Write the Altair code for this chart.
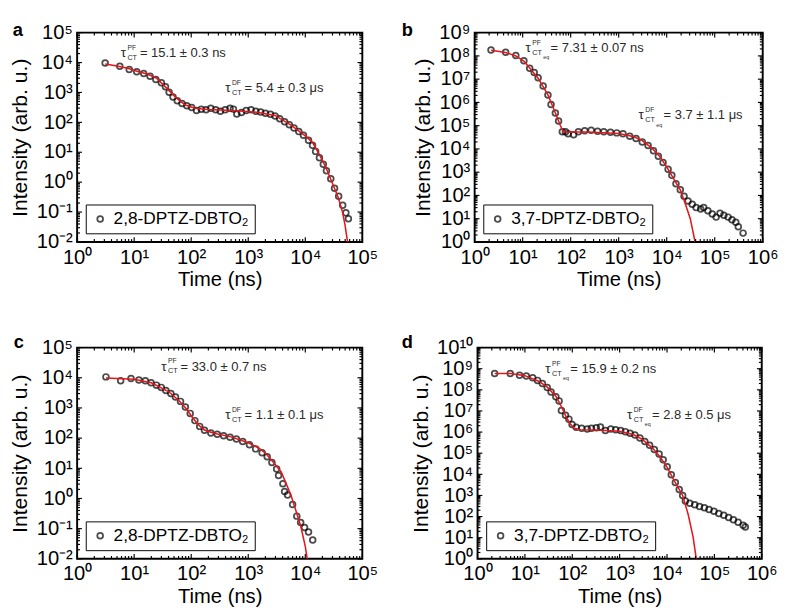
import altair as alt
import pandas as pd

FONT = "Liberation Sans"
RED = "#e3161b"

# ---------------- data ----------------
# panel a : 2,8-DPTZ-DBTO2
a_t = [3.1, 5.6, 8.2, 11.1, 14.7, 19, 24, 30, 35.4, 41, 48, 57, 69, 84, 102, 124, 150, 182, 221, 269,
       325, 395, 480, 550, 630, 760, 920, 1120, 1360, 1650, 2000, 2450, 2950, 3560, 4340, 5250, 6350,
       7700, 9300, 11400, 13400, 15200, 17700, 20700, 23500, 28000, 32600, 38500, 45300, 51500, 57000]
a_i = [9600, 7500, 5900, 4900, 4300, 3500, 2700, 2100, 1550, 1020, 700, 525, 430, 360, 316, 250, 275,
       265, 295, 265, 234, 265, 295, 277, 190, 215, 250, 265, 234, 220, 200, 186, 162, 131, 105, 83, 65,
       49, 37, 25, 17, 10.7, 6.6, 4.0, 2.4, 1.3, 0.63, 0.34, 0.17, 0.094, 0.06]
a_ft = [3.1, 5, 8, 12, 17, 25, 36, 54, 79, 116, 200, 400, 820, 1500, 2950, 5600, 10700, 13700, 17700,
        23000, 30000, 38000, 45000, 50000, 56000]
a_fi = [9000, 7600, 6300, 4900, 4150, 2950, 1480, 670, 380, 295, 270, 255, 234, 215, 170, 81, 32, 20,
        8.3, 3.1, 0.9, 0.3, 0.1, 0.035, 0.008]

# panel b : 3,7-DPTZ-DBTO2
b_t = [2.19, 4.43, 7.2, 10.6, 14, 17.4, 21, 26.7, 33.6, 39, 48, 56, 67, 78, 88.5, 115, 145, 196, 267,
       363, 490, 675, 912, 1230, 1700, 2300, 3100, 4100, 5300, 6700, 8400, 10700, 12800, 15600, 19200,
       23000, 27800, 34000, 41000, 51000, 59000, 72000, 89000, 107000, 129000, 155000, 190000, 229000,
       275000, 310000, 390000]
b_i = [1.8e8, 1.45e8, 1.05e8, 6.2e7, 2.95e7, 1.95e7, 1.15e7, 5.1e6, 2.1e6, 8.1e5, 3.5e5, 1.6e5, 5.5e4,
       5.5e4, 4.5e4, 4.1e4, 5.5e4, 6.1e4, 6.3e4, 5.8e4, 5.5e4, 5.2e4, 4.9e4, 4.5e4, 3.5e4, 2.8e4, 2.0e4,
       1.4e4, 8.3e3, 4.8e3, 2.6e3, 1.35e3, 730, 320, 175, 92, 58, 42, 30, 26, 30, 22, 16, 11.7, 17, 14,
       11.7, 9, 7, 4.5, 2.4]
b_ft = [2.19, 4.4, 7.2, 10.6, 14, 21, 33.6, 48, 60, 70, 80, 200, 500, 1000, 2000, 3000, 5000, 7000,
        10000, 15000, 19200, 24600, 31000, 39000, 42000]
b_fi = [1.75e8, 1.4e8, 1.0e8, 6.0e7, 3.0e7, 1.1e7, 2.1e6, 3.5e5, 1.1e5, 5.5e4, 5.3e4, 5.3e4, 5.0e4,
        4.6e4, 3.4e4, 2.4e4, 1.05e4, 5.0e3, 1.7e3, 400, 175, 42, 10, 1.0, 0.5]

# panel c : 2,8-DPTZ-DBTO2
c_t = [3.2, 5.8, 8.8, 12.1, 15.7, 19.8, 24.6, 29.9, 36, 44, 53, 65, 79, 96, 116, 141, 171, 221, 286,
       370, 480, 620, 800, 1050, 1350, 1750, 2150, 2600, 3150, 3400, 4050, 4340, 4900, 6000, 7100,
       8300, 9700, 11400, 13500]
c_i = [10700, 7900, 9400, 8500, 7900, 6800, 5700, 4800, 3800, 3000, 2300, 1650, 1070, 660, 380, 245,
       182, 148, 135, 120, 107, 94, 77, 60, 44, 33, 24, 15.6, 9.5, 5.8, 3.1, 1.7, 1.3, 0.63, 0.26, 0.16,
       0.11, 0.078, 0.042]
c_ft = [3.2, 10, 20, 40, 60, 80, 100, 130, 170, 250, 500, 1000, 1500, 2000, 3000, 3800, 5600, 8300,
        10000, 11000]
c_fi = [9800, 9000, 6800, 3500, 1800, 1000, 550, 290, 185, 145, 110, 70, 48, 32, 13, 7.4, 1.3, 0.125,
        0.026, 0.008]

# panel d : 3,7-DPTZ-DBTO2
d_t = [2.3, 4.9, 7.7, 10.7, 14.6, 18.5, 23.4, 29.6, 35.7, 45, 52.7, 59, 72, 85, 99, 121, 158, 207, 254,
       321, 394, 500, 650, 825, 1050, 1320, 1660, 2100, 2680, 3400, 4300, 5400, 6800, 8300, 10100,
       12300, 15000, 18100, 21400, 24400, 30200, 38500, 48600, 61500, 77000, 98000, 124000, 158000,
       200000, 252000, 317000, 405000, 450000]
d_i = [6e8, 6e8, 4.9e8, 4.5e8, 3.7e8, 2.8e8, 2e8, 1.3e8, 7.9e7, 4.7e7, 3e7, 1.05e7, 6.3e6, 4.1e6, 2.3e6,
       1.7e6, 1.5e6, 1.4e6, 1.5e6, 1.6e6, 1.75e6, 1.2e6, 1.4e6, 1.3e6, 1.2e6, 1.05e6, 8.8e5, 7.3e5,
       5.2e5, 3.6e5, 2.4e5, 1.5e5, 9.2e4, 4.9e4, 2.3e4, 9.6e3, 4.1e3, 1.9e3, 1e3, 550, 430, 360, 300,
       260, 215, 180, 140, 115, 90, 71, 54, 39, 32]
d_ft = [2.3, 5, 10, 20, 30, 45, 60, 75, 90, 110, 150, 300, 1000, 2000, 3000, 5000, 7000, 10000, 15000,
        21400, 28000, 35500, 41500, 44000]
d_fi = [6e8, 6e8, 4.7e8, 2.5e8, 1.3e8, 5e7, 1.5e7, 5e6, 2.5e6, 1.5e6, 1.3e6, 1.25e6, 1.1e6, 7.5e5,
        4.5e5, 1.7e5, 7e4, 2.2e4, 4e3, 1e3, 125, 11, 1, 0.5]

# axis decades (tick labels 10^n)
a_xexp = [0, 1, 2, 3, 4, 5]
a_yexp = [-2, -1, 0, 1, 2, 3, 4, 5]
b_xexp = [0, 1, 2, 3, 4, 5, 6]
b_yexp = [0, 1, 2, 3, 4, 5, 6, 7, 8, 9]
c_xexp = [0, 1, 2, 3, 4, 5]
c_yexp = [-2, -1, 0, 1, 2, 3, 4, 5]
d_xexp = [0, 1, 2, 3, 4, 5, 6]
d_yexp = [0, 1, 2, 3, 4, 5, 6, 7, 8, 9, 10]

# series names and annotations
names = ["2,8-DPTZ-DBTO₂", "3,7-DPTZ-DBTO₂", "2,8-DPTZ-DBTO₂", "3,7-DPTZ-DBTO₂"]
letters = ["a", "b", "c", "d"]
# (tau x, tau y, superscript, has 'eq', value text)
a_ann = [(5.8, 1.55e4, "PF", False, "= 15.1 ± 0.3 ns"), (396, 1020, "DF", False, "= 5.4 ± 0.3 μs")]
b_ann = [(11.5, 1.45e8, "PF", True, "= 7.31 ± 0.07 ns"), (2600, 1.86e5, "DF", True, "= 3.7 ± 1.1 μs")]
c_ann = [(29.9, 1.74e4, "PF", False, "= 33.0 ± 0.7 ns"), (396, 425, "DF", False, "= 1.1 ± 0.1 μs")]
d_ann = [(27, 6.3e8, "PF", True, "= 15.9 ± 0.2 ns"), (1430, 4.2e6, "DF", True, "= 2.8 ± 0.5 μs")]

SUP = str.maketrans("0123456789-", "⁰¹²³⁴⁵⁶⁷⁸⁹⁻")


def label_expr(exps):
    expr = "''"
    for e in reversed(exps):
        expr = f"(round(log(datum.value)/LN10) == {e}) ? '10{str(e).translate(SUP)}' : {expr}"
    return expr


def panel(t, i, ft, fi, xexp, yexp, name, ann, letter, lpos, w, h):
    xdom = [10.0 ** xexp[0], 10.0 ** xexp[-1]]
    ydom = [10.0 ** yexp[0], 10.0 ** yexp[-1]]
    xs = alt.Scale(type="log", domain=xdom, nice=False)
    ys = alt.Scale(type="log", domain=ydom, nice=False)
    xmaj = [10.0 ** e for e in xexp]
    ymaj = [10.0 ** e for e in yexp]
    xmin = [m * 10.0 ** e for e in xexp[:-1] for m in range(2, 10)]
    ymin = [m * 10.0 ** e for e in yexp[:-1] for m in range(2, 10)]

    pts = pd.DataFrame({"t": t, "I": i, "series": name})
    fit = pd.DataFrame({"t": ft, "I": fi})

    main_x = alt.Axis(orient="bottom", values=xmaj, labelExpr=label_expr(xexp), title="Time (ns)",
                      ticks=False, domain=False, grid=False, labelFlush=False, labelOverlap=False,
                      labelPadding=5, labelFontSize=21, titleFontSize=21, titlePadding=2,
                      labelColor="black", titleColor="black", titleFontWeight="normal")
    main_y = alt.Axis(orient="left", values=ymaj, labelExpr=label_expr(yexp),
                      title="Intensity (arb. u.)", ticks=False, domain=False, grid=False,
                      labelFlush=False, labelOverlap=False, labelPadding=5, labelFontSize=21,
                      titleFontSize=22, titlePadding=5, labelColor="black", titleColor="black",
                      titleFontWeight="normal")

    points = alt.Chart(pts).mark_point(shape="circle", filled=False, size=36, strokeWidth=1.8).encode(
        x=alt.X("t:Q", scale=xs, axis=main_x),
        y=alt.Y("I:Q", scale=ys, axis=main_y),
        color=alt.Color("series:N", scale=alt.Scale(range=["black"]),
                        legend=alt.Legend(title=None, orient="bottom-left", offset=9, padding=6,
                                          strokeColor="black", fillColor="white",
                                          labelFontSize=18, labelFont=FONT, labelColor="black",
                                          symbolType="circle", symbolSize=36, symbolStrokeWidth=1.8,
                                          labelOffset=5)),
    )
    line = alt.Chart(fit).mark_line(color=RED, strokeWidth=1.6, clip=True).encode(
        x=alt.X("t:Q", scale=xs, axis=None),
        y=alt.Y("I:Q", scale=ys, axis=None),
    )
    layers = [points, line]

    # inward ticks on all four sides (major 5 px, minor 3 px)
    for vals, ln in [(xmaj, 5), (xmin, 3)]:
        tdf = pd.DataFrame({"t": vals})
        tx = alt.X("t:Q", scale=xs, axis=None)
        layers.append(alt.Chart(tdf).mark_rule(color="black", strokeWidth=1.2).encode(
            x=tx, y=alt.value(h), y2=alt.value(h - ln)))
        layers.append(alt.Chart(tdf).mark_rule(color="black", strokeWidth=1.2).encode(
            x=tx, y=alt.value(0), y2=alt.value(ln)))
    for vals, ln in [(ymaj, 5), (ymin, 3)]:
        tdf = pd.DataFrame({"I": vals})
        ty = alt.Y("I:Q", scale=ys, axis=None)
        layers.append(alt.Chart(tdf).mark_rule(color="black", strokeWidth=1.2).encode(
            y=ty, x=alt.value(0), x2=alt.value(ln)))
        layers.append(alt.Chart(tdf).mark_rule(color="black", strokeWidth=1.2).encode(
            y=ty, x=alt.value(w), x2=alt.value(w - ln)))

    # annotations tau^{PF/DF}_{CT(eq)} = ...
    for (ax, ay, sup, eq, txt) in ann:
        adf = pd.DataFrame({"t": [ax], "I": [ay], "tau": ["τ"], "sup": [sup], "sub": ["CT"],
                            "eq": ["eq"], "val": [txt]})
        enc = dict(x=alt.X("t:Q", scale=xs, axis=None), y=alt.Y("I:Q", scale=ys, axis=None))
        parts = [("tau", 14, 0, 0), ("sup", 7, 7, -7.5), ("sub", 7.5, 7, 3)]
        if eq:
            parts.append(("eq", 5.5, 18.5, 7.5))
        for field, fs, dx, dy in parts:
            layers.append(alt.Chart(adf).mark_text(align="left", baseline="alphabetic", fontSize=fs,
                                                   dx=dx, dy=dy, color="#2a2a2a", font=FONT)
                          .encode(text=f"{field}:N", **enc))
        layers.append(alt.Chart(adf).mark_text(align="left", baseline="alphabetic", fontSize=13.5,
                                               dx=26 if eq else 20, dy=0, color="#2a2a2a", font=FONT)
                      .encode(text="val:N", **enc))

    ldf = pd.DataFrame({"letter": [letter]})
    layers.append(alt.Chart(ldf).mark_text(align="left", baseline="middle", fontSize=19,
                                           fontWeight="bold", color="black", font=FONT)
                  .encode(text="letter:N", x=alt.value(lpos[0]), y=alt.value(lpos[1])))

    return (alt.layer(*layers)
            .resolve_axis(x="independent", y="independent")
            .properties(width=w, height=h))


pa = panel(a_t, a_i, a_ft, a_fi, a_xexp, a_yexp, names[0], a_ann, letters[0], (-67, -3), 297, 218)
pb = panel(b_t, b_i, b_ft, b_fi, b_xexp, b_yexp, names[1], b_ann, letters[1], (-76, -3), 300, 218)
pc = panel(c_t, c_i, c_ft, c_fi, c_xexp, c_yexp, names[2], c_ann, letters[2], (-66, -6), 297, 220)
pd_ = panel(d_t, d_i, d_ft, d_fi, d_xexp, d_yexp, names[3], d_ann, letters[3], (-79, -6), 296, 220)

chart = alt.vconcat(
    alt.hconcat(pa, pb, spacing=22).resolve_scale(color="independent"),
    alt.hconcat(pc, pd_, spacing=22).resolve_scale(color="independent"),
    spacing=44, padding=0,
).resolve_scale(color="independent").configure(font=FONT, background="white").configure_view(
    stroke="black", strokeWidth=2)

chart.save("out.html", embed_options={"renderer": "svg", "actions": False})
